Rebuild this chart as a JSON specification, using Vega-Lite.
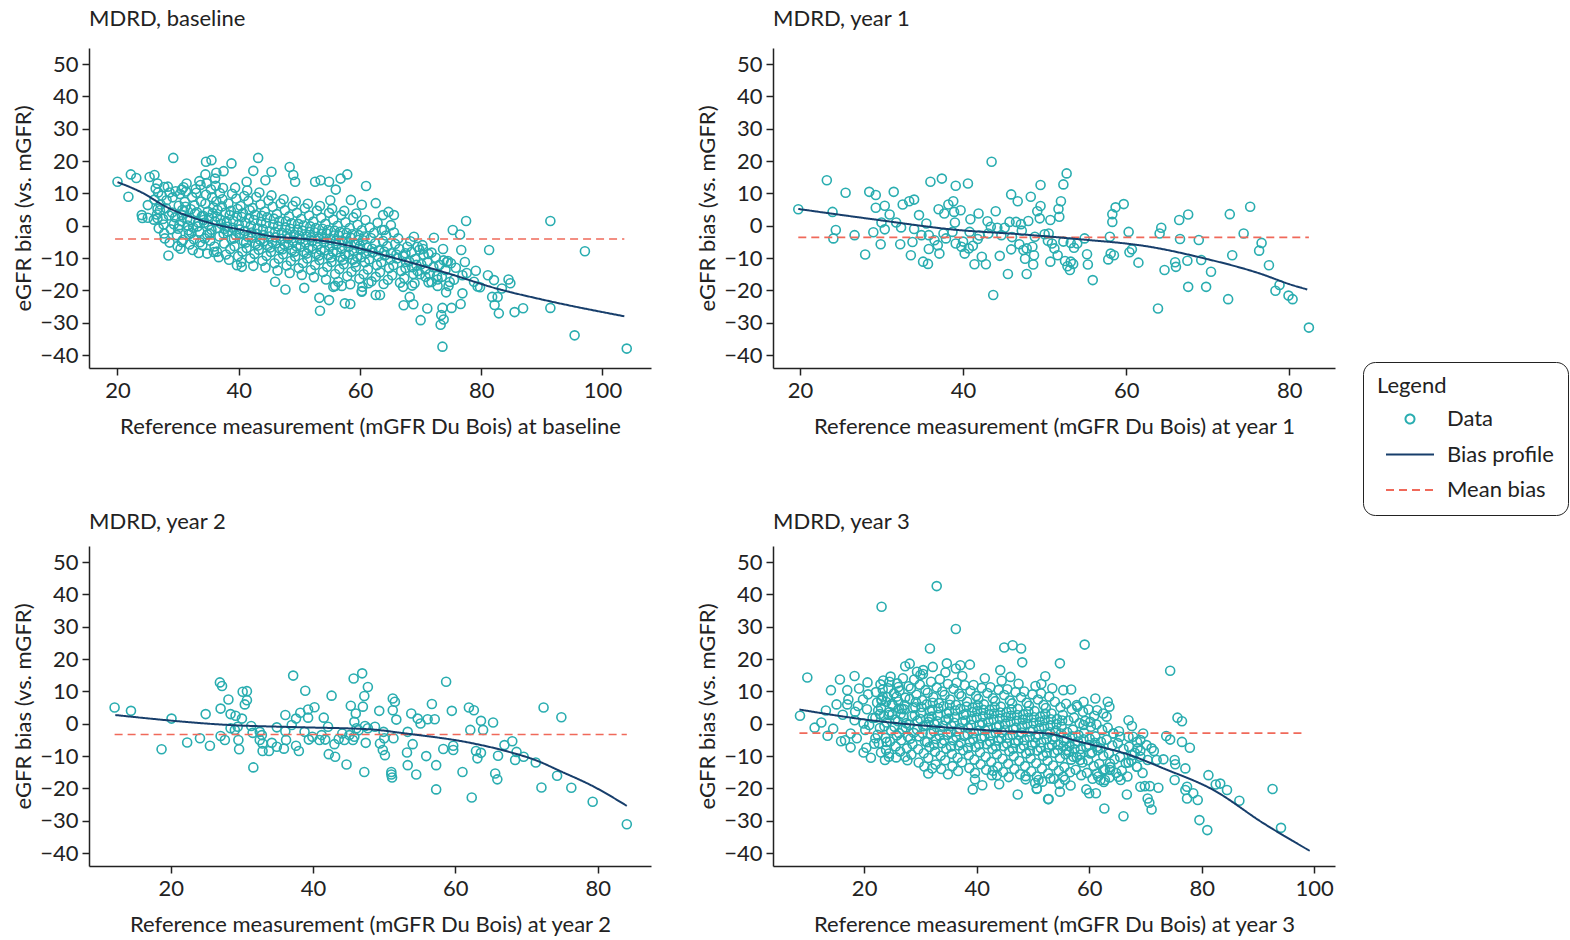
{
"$schema":"https://vega.github.io/schema/vega-lite/v6.json",
"background":"white",
"padding":{"left":12,"top":8,"right":5,"bottom":5},
"config":{
"font":"Lato",
"view":{"stroke":null},
"axis":{"grid":false,"domainColor":"#222","tickColor":"#222","labelColor":"#222","titleColor":"#222","labelFontSize":22,"titleFontSize":22,"titleFontWeight":"normal","tickSize":7,"labelPadding":4,"domainWidth":1.5,"tickWidth":1.5,"labelFont":"Lato","titleFont":"Lato","labelOverlap":false,"labelFlush":false},
"axisY":{"titlePadding":4},
"axisX":{"titlePadding":15,"labelPadding":5},
"title":{"fontSize":22,"fontWeight":"normal","anchor":"start","frame":"group","color":"#222","font":"Lato","offset":17},
"legend":{"orient":"none","legendX":1274,"legendY":314,"titleFontSize":22,"titleFontWeight":"normal","titleFont":"Lato","titleColor":"#222","titlePadding":10,"labelFontSize":22,"labelFont":"Lato","labelColor":"#222","labelOffset":26,"symbolSize":400,"symbolOffset":22,"rowPadding":13.5,"strokeColor":"#222","cornerRadius":12,"padding":14,"fillColor":"white","symbolStrokeWidth":2,"symbolFillColor":"transparent"}
},
"datasets":{
"p0":[
{"x":20,"y":13.6},{"x":21.8,"y":9},{"x":22.2,"y":15.9},{"x":23.1,"y":14.8},{"x":24,"y":3.3},{"x":24.1,"y":2.4},{"x":25,"y":2.5},{"x":25,"y":6.4},{"x":25.3,"y":15.1},{"x":26.1,"y":15.7},{"x":26.6,"y":13.1},{"x":26.7,"y":10.3},{"x":27.7,"y":12},{"x":26.6,"y":2.3},{"x":27.7,"y":-2.4},{"x":28.4,"y":-9.2},{"x":29.2,"y":21},{"x":28.6,"y":10.3},{"x":30.6,"y":11.2},{"x":30.6,"y":-5},{"x":34.6,"y":19.8},{"x":35.5,"y":20.3},{"x":38.8,"y":19.3},{"x":43.2,"y":21},{"x":48.4,"y":18.2},{"x":42.4,"y":17},{"x":45.4,"y":16.7},{"x":34.5,"y":15.9},{"x":36.3,"y":16.4},{"x":37.5,"y":16.9},{"x":36.1,"y":14.6},{"x":33.5,"y":13.8},{"x":41.3,"y":13.6},{"x":44.4,"y":14.1},{"x":49,"y":15.7},{"x":49.3,"y":13.6},{"x":52.6,"y":13.6},{"x":53.5,"y":14.1},{"x":54.9,"y":13.6},{"x":56.8,"y":14.6},{"x":57.9,"y":15.9},{"x":56,"y":11.2},{"x":61,"y":12.3},{"x":34.8,"y":-8.6},{"x":39.7,"y":-12.2},{"x":40.5,"y":-12.7},{"x":46,"y":-17.3},{"x":47.7,"y":-19.7},{"x":50.8,"y":-19.2},{"x":53.3,"y":-22.3},{"x":54.9,"y":-23},{"x":53.4,"y":-26.3},{"x":58.4,"y":-24.2},{"x":55.9,"y":-18.6},{"x":57,"y":-18.6},{"x":60.3,"y":-20.2},{"x":61.4,"y":-17.8},{"x":62.6,"y":-21.4},{"x":63.3,"y":-21.4},{"x":36.4,"y":-8},
{"x":91.4,"y":1.5},{"x":97.1,"y":-7.9},{"x":95.4,"y":-33.9},{"x":104,"y":-38},{"x":91.4,"y":-25.4},{"x":73.6,"y":-37.4},{"x":77.5,"y":1.5},{"x":75.3,"y":-1.3},{"x":76.5,"y":-2.7},{"x":73.7,"y":-7.2},{"x":76.7,"y":-7.5},{"x":81.3,"y":-7.5},{"x":81.1,"y":-15.3},{"x":82.1,"y":-16.8},{"x":84.5,"y":-16.6},{"x":84.8,"y":-17.8},{"x":83.4,"y":-19.4},{"x":79.8,"y":-19},{"x":78.8,"y":-17.3},{"x":76.9,"y":-15.3},{"x":76.9,"y":-20.9},{"x":81.8,"y":-22},{"x":82.7,"y":-22},{"x":82.2,"y":-24.5},{"x":82.9,"y":-27.1},{"x":85.5,"y":-26.7},{"x":86.9,"y":-25.5},{"x":76.6,"y":-24.2},{"x":75.1,"y":-25.4},{"x":73.6,"y":-25.4},{"x":73.4,"y":-27.6},{"x":73.8,"y":-29},{"x":73.3,"y":-30.6},{"x":71.1,"y":-25.6},{"x":70,"y":-29.2},{"x":68.8,"y":-24.3},{"x":67.2,"y":-24.6},{"x":68.2,"y":-22},{"x":74.2,"y":-20.6},{"x":74.6,"y":-18.6},{"x":72.8,"y":-18.6},{"x":72.7,"y":-15.5},{"x":74.3,"y":-11.3},{"x":75,"y":-11.6},{"x":72.2,"y":-3.7},{"x":68.9,"y":-3.4},{"x":69.5,"y":-6.5},{"x":71.3,"y":-8.7},{"x":70.4,"y":-7.2},{"x":63.8,"y":3.3},{"x":65.1,"y":0.2},{"x":65.6,"y":3.3},{"x":64.7,"y":4.3},{"x":64,"y":-1.3},{"x":55.1,"y":7.9},{"x":62.6,"y":7},{"x":60.3,"y":6.5},{"x":58.5,"y":8},{"x":57.5,"y":-24},{"x":60.3,"y":-20.4},{"x":67.1,"y":-18.9},{"x":55.6,"y":-18.9},{"x":67.5,"y":-8.5},{"x":68.6,"y":-12.8},{"x":69.9,"y":-15},{"x":70.8,"y":-13.5},{"x":71.8,"y":-17.4},{"x":69,"y":-17.8},
{"x":26.1,"y":8.1},{"x":26.5,"y":3.5},{"x":26.8,"y":-0.8},{"x":26.3,"y":11.5},{"x":26.6,"y":5.2},{"x":26,"y":1.9},
{"x":27.1,"y":6.6},{"x":27.5,"y":2.1},{"x":27.8,"y":-3.9},{"x":27.3,"y":9.3},{"x":27.6,"y":0.4},{"x":27,"y":4.8},
{"x":28.1,"y":7.9},{"x":28.5,"y":3.2},{"x":28.8,"y":-1.1},{"x":28.3,"y":12.1},{"x":28.6,"y":-5.2},{"x":28,"y":5.4},
{"x":29.1,"y":8.8},{"x":29.5,"y":2.6},{"x":29.8,"y":-2.9},{"x":29.3,"y":0.5},{"x":29.6,"y":10.7},{"x":29,"y":4.1},{"x":29.9,"y":-6.3},
{"x":30.1,"y":6.2},{"x":30.5,"y":1.4},{"x":30.8,"y":-4.4},{"x":30.3,"y":9.8},{"x":30.6,"y":3.3},{"x":30,"y":-0.9},{"x":30.9,"y":11.9},{"x":30.4,"y":-7.1},{"x":30.7,"y":4.9},{"x":30.2,"y":0.2},
{"x":31.1,"y":7.4},{"x":31.5,"y":2.2},{"x":31.8,"y":-2.6},{"x":31.3,"y":10.6},{"x":31.6,"y":0.1},{"x":31,"y":4.5},{"x":31.9,"y":-5.8},{"x":31.4,"y":13.1},{"x":31.7,"y":-1.4},{"x":31.2,"y":5.9},
{"x":32.1,"y":5.1},{"x":32.5,"y":-0.6},{"x":32.8,"y":3.8},{"x":32.3,"y":8.9},{"x":32.6,"y":-4.2},{"x":32,"y":1.7},{"x":32.9,"y":11.4},{"x":32.4,"y":-7.5},{"x":32.7,"y":6.3},{"x":32.2,"y":-2.2},
{"x":33.1,"y":4.2},{"x":33.5,"y":-1.8},{"x":33.8,"y":7.5},{"x":33.3,"y":1},{"x":33.6,"y":-5.1},{"x":33,"y":10.2},{"x":33.9,"y":2.9},{"x":33.4,"y":-8.4},{"x":33.7,"y":12.6},{"x":33.2,"y":-0.2},
{"x":34.1,"y":3.1},{"x":34.5,"y":6.8},{"x":34.8,"y":-2.7},{"x":34.3,"y":0.9},{"x":34.6,"y":9.6},{"x":34,"y":-6},{"x":34.9,"y":4.4},{"x":34.4,"y":-3.9},{"x":34.7,"y":13.2},{"x":34.2,"y":1.8},
{"x":35.1,"y":2.4},{"x":35.5,"y":-1.2},{"x":35.8,"y":5.7},{"x":35.3,"y":-4.6},{"x":35.6,"y":8.8},{"x":35,"y":0.3},{"x":35.9,"y":-8.1},{"x":35.4,"y":11.3},{"x":35.7,"y":3.9},{"x":35.2,"y":-2.5},
{"x":36.1,"y":1.3},{"x":36.5,"y":4.9},{"x":36.8,"y":-3.3},{"x":36.3,"y":7.6},{"x":36.6,"y":-0.7},{"x":36,"y":-6.4},{"x":36.9,"y":10.1},{"x":36.4,"y":2.8},{"x":36.7,"y":-9.7},{"x":36.2,"y":12.4},
{"x":37.1,"y":0.6},{"x":37.5,"y":-2.4},{"x":37.8,"y":4.1},{"x":37.3,"y":8.2},{"x":37.6,"y":-5.5},{"x":37,"y":1.9},{"x":37.9,"y":-8.9},{"x":37.4,"y":11.7},{"x":37.7,"y":-0.9},{"x":37.2,"y":6},
{"x":38.1,"y":-0.3},{"x":38.5,"y":3.3},{"x":38.8,"y":-4.1},{"x":38.3,"y":6.9},{"x":38.6,"y":-7.2},{"x":38,"y":1.2},{"x":38.9,"y":9.9},{"x":38.4,"y":-10.5},{"x":38.7,"y":4.6},{"x":38.2,"y":-1.8},
{"x":39.1,"y":1.5},{"x":39.5,"y":-2.9},{"x":39.8,"y":5.2},{"x":39.3,"y":-6.3},{"x":39.6,"y":8.4},{"x":39,"y":-0.6},{"x":39.9,"y":-9.4},{"x":39.4,"y":11.8},{"x":39.7,"y":3},{"x":39.2,"y":-3.9},
{"x":40.1,"y":-1.1},{"x":40.5,"y":2.7},{"x":40.8,"y":-4.8},{"x":40.3,"y":6.1},{"x":40.6,"y":-8},{"x":40,"y":0.4},{"x":40.9,"y":9.2},{"x":40.4,"y":-11.3},{"x":40.7,"y":3.9},{"x":40.2,"y":-2.6},
{"x":41.1,"y":0.9},{"x":41.5,"y":-3.4},{"x":41.8,"y":4.8},{"x":41.3,"y":-6.9},{"x":41.6,"y":7.7},{"x":41,"y":-1.6},{"x":41.9,"y":-10.1},{"x":41.4,"y":10.9},{"x":41.7,"y":2.3},{"x":41.2,"y":-5.2},
{"x":42.1,"y":-2.1},{"x":42.5,"y":1.8},{"x":42.8,"y":-5.6},{"x":42.3,"y":5.5},{"x":42.6,"y":-8.7},{"x":42,"y":0},{"x":42.9,"y":8.9},{"x":42.4,"y":-12.4},{"x":42.7,"y":3.4},{"x":42.2,"y":-3.7},
{"x":43.1,"y":-0.8},{"x":43.5,"y":-4.3},{"x":43.8,"y":3.1},{"x":43.3,"y":-7.4},{"x":43.6,"y":6.6},{"x":43,"y":-2.5},{"x":43.9,"y":-10.8},{"x":43.4,"y":10.3},{"x":43.7,"y":1.2},{"x":43.2,"y":-6.1},
{"x":44.1,"y":-2.9},{"x":44.5,"y":0.8},{"x":44.8,"y":-6.2},{"x":44.3,"y":4.4},{"x":44.6,"y":-9.3},{"x":44,"y":-1.1},{"x":44.9,"y":7.8},{"x":44.4,"y":-12.9},{"x":44.7,"y":2.6},{"x":44.2,"y":-4.8},
{"x":45.1,"y":-1.7},{"x":45.5,"y":-5},{"x":45.8,"y":2.2},{"x":45.3,"y":-8.1},{"x":45.6,"y":5.9},{"x":45,"y":-3.3},{"x":45.9,"y":-11.6},{"x":45.4,"y":9.4},{"x":45.7,"y":0.4},{"x":45.2,"y":-6.7},
{"x":46.1,"y":-3.6},{"x":46.5,"y":-0.2},{"x":46.8,"y":-7},{"x":46.3,"y":3.6},{"x":46.6,"y":-10.2},{"x":46,"y":-1.9},{"x":46.9,"y":6.9},{"x":46.4,"y":-13.8},{"x":46.7,"y":1.5},{"x":46.2,"y":-5.4},
{"x":47.1,"y":-2.2},{"x":47.5,"y":-5.8},{"x":47.8,"y":1.4},{"x":47.3,"y":-8.8},{"x":47.6,"y":4.8},{"x":47,"y":-4},{"x":47.9,"y":-12.3},{"x":47.4,"y":8.2},{"x":47.7,"y":-0.5},{"x":47.2,"y":-7.3},
{"x":48.1,"y":-3.9},{"x":48.5,"y":-0.9},{"x":48.8,"y":-7.6},{"x":48.3,"y":2.9},{"x":48.6,"y":-10.9},{"x":48,"y":-2.4},{"x":48.9,"y":6.2},{"x":48.4,"y":-14.6},{"x":48.7,"y":0.8},{"x":48.2,"y":-5.9},
{"x":49.1,"y":-2.8},{"x":49.5,"y":-6.3},{"x":49.8,"y":0.6},{"x":49.3,"y":-9.5},{"x":49.6,"y":4},{"x":49,"y":-4.6},{"x":49.9,"y":-13.1},{"x":49.4,"y":7.5},{"x":49.7,"y":-1.2},{"x":49.2,"y":-8},
{"x":50.1,"y":-4.3},{"x":50.5,"y":-1.5},{"x":50.8,"y":-8.2},{"x":50.3,"y":2.1},{"x":50.6,"y":-11.5},{"x":50,"y":-3},{"x":50.9,"y":5.4},{"x":50.4,"y":-15.2},{"x":50.7,"y":0.1},{"x":50.2,"y":-6.5},
{"x":51.1,"y":-3.3},{"x":51.5,"y":-6.9},{"x":51.8,"y":-0.2},{"x":51.3,"y":-10.1},{"x":51.6,"y":3.2},{"x":51,"y":-5.2},{"x":51.9,"y":-13.7},{"x":51.4,"y":6.8},{"x":51.7,"y":-1.9},{"x":51.2,"y":-8.6},
{"x":52.1,"y":-4.8},{"x":52.5,"y":-2},{"x":52.8,"y":-8.7},{"x":52.3,"y":1.3},{"x":52.6,"y":-12.1},{"x":52,"y":-3.6},{"x":52.9,"y":4.7},{"x":52.4,"y":-15.9},{"x":52.7,"y":-0.7},{"x":52.2,"y":-7.1},
{"x":53.1,"y":-3.9},{"x":53.5,"y":-7.4},{"x":53.8,"y":-0.9},{"x":53.3,"y":-10.6},{"x":53.6,"y":2.5},{"x":53,"y":-5.7},{"x":53.9,"y":-14.3},{"x":53.4,"y":6.1},{"x":53.7,"y":-2.5},{"x":53.2,"y":-9.2},
{"x":54.1,"y":-5.2},{"x":54.5,"y":-2.4},{"x":54.8,"y":-9.1},{"x":54.3,"y":0.6},{"x":54.6,"y":-12.7},{"x":54,"y":-4.1},{"x":54.9,"y":4},{"x":54.4,"y":-16.6},{"x":54.7,"y":-1.3},{"x":54.2,"y":-7.6},
{"x":55.1,"y":-4.4},{"x":55.5,"y":-8},{"x":55.8,"y":-1.5},{"x":55.3,"y":-11.2},{"x":55.6,"y":1.9},{"x":55,"y":-6.2},{"x":55.9,"y":-14.9},{"x":55.4,"y":5.3},{"x":55.7,"y":-3},{"x":55.2,"y":-9.8},
{"x":56.1,"y":-5.9},{"x":56.5,"y":-3},{"x":56.8,"y":-9.8},{"x":56.3,"y":0},{"x":56.6,"y":-13.4},{"x":56,"y":-4.7},{"x":56.9,"y":3.3},{"x":56.4,"y":-17.3},{"x":56.7,"y":-1.9},{"x":56.2,"y":-8.2},
{"x":57.1,"y":-5},{"x":57.5,"y":-8.8},{"x":57.8,"y":-2.2},{"x":57.3,"y":-11.9},{"x":57.6,"y":1.1},{"x":57,"y":-6.9},{"x":57.9,"y":-15.6},{"x":57.4,"y":4.6},{"x":57.7,"y":-3.7},{"x":57.2,"y":-10.5},
{"x":58.1,"y":-6.6},{"x":58.5,"y":-3.7},{"x":58.8,"y":-10.5},{"x":58.3,"y":-0.7},{"x":58.6,"y":-14.2},{"x":58,"y":-5.4},{"x":58.9,"y":2.6},{"x":58.4,"y":-18.1},{"x":58.7,"y":-2.6},{"x":58.2,"y":-8.9},
{"x":59.1,"y":-5.8},{"x":59.5,"y":-9.6},{"x":59.8,"y":-2.9},{"x":59.3,"y":-12.7},{"x":59.6,"y":0.3},{"x":59,"y":-7.7},{"x":59.9,"y":-16.4},{"x":59.4,"y":3.8},{"x":59.7,"y":-4.4},{"x":59.2,"y":-11.3},
{"x":60.1,"y":-7.4},{"x":60.5,"y":-4.5},{"x":60.8,"y":-11.3},{"x":60.3,"y":-1.4},{"x":60.6,"y":-15},{"x":60,"y":-6.2},{"x":60.9,"y":1.8},{"x":60.4,"y":-18.9},{"x":60.7,"y":-3.3},{"x":60.2,"y":-9.7},
{"x":61.1,"y":-6.7},{"x":61.5,"y":-10.4},{"x":61.8,"y":-3.8},{"x":61.3,"y":-13.5},{"x":61.6,"y":-0.5},{"x":61,"y":-8.5},{"x":61.9,"y":-17.2},
{"x":62.1,"y":-8.3},{"x":62.5,"y":-5.4},{"x":62.8,"y":-12.2},{"x":62.3,"y":-2.2},{"x":62.6,"y":-15.8},{"x":62,"y":-7.1},{"x":62.9,"y":0.9},
{"x":63.1,"y":-7.6},{"x":63.5,"y":-11.3},{"x":63.8,"y":-4.7},{"x":63.3,"y":-14.4},{"x":63.6,"y":-1.3},{"x":63,"y":-9.4},{"x":63.9,"y":-18},
{"x":64.1,"y":-9.2},{"x":64.5,"y":-6.3},{"x":64.8,"y":-13.1},{"x":64.3,"y":-3},{"x":64.6,"y":-16.7},{"x":64,"y":-8},
{"x":65.1,"y":-8.5},{"x":65.5,"y":-12.2},{"x":65.8,"y":-5.6},{"x":65.3,"y":-15.3},{"x":65.6,"y":-2.1},{"x":65,"y":-10.3},
{"x":66.1,"y":-10.1},{"x":66.5,"y":-7.2},{"x":66.8,"y":-14},{"x":66.3,"y":-3.9},{"x":66.6,"y":-17.6},{"x":66,"y":-8.9},
{"x":67.1,"y":-9.4},{"x":67.5,"y":-13.1},{"x":67.8,"y":-6.5},{"x":67.3,"y":-16.2},{"x":67.6,"y":-11.2},
{"x":68.1,"y":-11},{"x":68.5,"y":-8.1},{"x":68.8,"y":-14.9},{"x":68.3,"y":-4.8},{"x":68.6,"y":-18.5},
{"x":69.1,"y":-10.3},{"x":69.5,"y":-14},{"x":69.8,"y":-7.4},{"x":69.3,"y":-12.1},
{"x":70.1,"y":-11.9},{"x":70.5,"y":-9},{"x":70.8,"y":-15.8},{"x":70.3,"y":-6},
{"x":71.1,"y":-11.2},{"x":71.5,"y":-14.9},{"x":71.8,"y":-8.3},{"x":71.3,"y":-17.5},
{"x":72.1,"y":-12.8},{"x":72.5,"y":-9.9},{"x":72.8,"y":-16.6},
{"x":73.1,"y":-12.1},{"x":73.5,"y":-15.8},{"x":73.8,"y":-10.7},
{"x":74.1,"y":-13.7},{"x":74.5,"y":-10.9},{"x":74.8,"y":-17.4},
{"x":75.8,"y":-13},{"x":75.5,"y":-16.7},{"x":77.6,"y":-14.6},{"x":77.3,"y":-11.2},{"x":79.1,"y":-13.9},{"x":79.4,"y":-18.8}
],
"p1":[
{"x":19.8,"y":5.1},{"x":23.3,"y":14.1},{"x":24,"y":4.3},{"x":24.4,"y":-1.3},{"x":24.1,"y":-3.9},{"x":25.6,"y":10.2},{"x":26.7,"y":-2.9},{"x":28,"y":-8.9},{"x":28.5,"y":10.5},{"x":29.3,"y":9.5},{"x":29.3,"y":5.6},{"x":30.4,"y":6.2},{"x":30,"y":1},{"x":29,"y":-2},{"x":30.4,"y":-1.1},{"x":29.9,"y":-5.7},{"x":31.5,"y":10.5},{"x":31.8,"y":1},{"x":32.4,"y":-0.5},{"x":32.3,"y":-5.7},{"x":32.6,"y":6.6},{"x":33.4,"y":7.6},{"x":34,"y":8.1},{"x":34.6,"y":3.3},{"x":35.5,"y":0.7},{"x":34.9,"y":-2.9},{"x":35.8,"y":-2.9},{"x":33.8,"y":-5},{"x":33.6,"y":-9.1},{"x":35.1,"y":-11.1},{"x":35.7,"y":-11.8},{"x":35.8,"y":-7.2},{"x":36,"y":13.6},{"x":37.4,"y":14.6},{"x":37,"y":5.1},{"x":37.7,"y":3.8},{"x":38.2,"y":6.6},{"x":38.8,"y":7.6},{"x":38.9,"y":4.3},{"x":39.7,"y":4.8},{"x":39.1,"y":12.4},{"x":40.6,"y":13.1},{"x":37.6,"y":-2.4},{"x":38.7,"y":-1.9},{"x":37.9,"y":-3.9},{"x":36.9,"y":-6},{"x":37.1,"y":-8.6},{"x":39.1,"y":-5.5},{"x":40,"y":-4.9},{"x":39.8,"y":-6.5},{"x":40.7,"y":-7},{"x":40.2,"y":-8.6},{"x":40.9,"y":2},{"x":40.8,"y":-1.9},{"x":41.9,"y":3.8},{"x":41.8,"y":-4.1},{"x":41.4,"y":-11.9},{"x":42.8,"y":-11.9},{"x":42.3,"y":-9.6},{"x":43,"y":1.4},{"x":43.4,"y":-0.3},{"x":43.1,"y":-2.4},{"x":43.5,"y":19.8},{"x":43.7,"y":-21.4},{"x":44.2,"y":-0.6},{"x":44.7,"y":-2.9},{"x":44.5,"y":-9.3},{"x":45.1,"y":-0.6},{"x":45.7,"y":1.2},{"x":45.9,"y":9.7},{"x":46.7,"y":7.6},{"x":46.5,"y":1.2},{"x":47.1,"y":0.5},{"x":47.2,"y":-1.5},{"x":45.5,"y":-14.9},{"x":45.9,"y":-7.3},{"x":46.9,"y":-5.7},{"x":47.4,"y":-7.5},{"x":47.8,"y":-7},{"x":48.5,"y":-6.5},{"x":48.7,"y":-9.1},{"x":48.6,"y":-12},{"x":47.8,"y":-14.9},{"x":48.3,"y":9},{"x":49.1,"y":4.5},{"x":49.4,"y":2.3},{"x":49.5,"y":6.1},{"x":49.5,"y":12.6},{"x":48.8,"y":-3.4},{"x":50,"y":-2.6},{"x":50.5,"y":-2.4},{"x":50.7,"y":1.8},{"x":50.7,"y":-11.1},{"x":50.9,"y":-5.5},{"x":51.2,"y":-7},{"x":51.6,"y":-9.1},{"x":51.8,"y":2.8},{"x":51.7,"y":5.2},{"x":52,"y":7.6},{"x":52.3,"y":12.8},{"x":52.7,"y":16.2},{"x":52.3,"y":-4.9},{"x":53.2,"y":-5.3},{"x":54,"y":-5.5},{"x":52.5,"y":-10.9},{"x":52.8,"y":-12.5},{"x":53.5,"y":-11.8},{"x":53.1,"y":-13.7},{"x":53.2,"y":-11.1},{"x":54.9,"y":-3.9},{"x":55.2,"y":-8.8},{"x":55.3,"y":-12},{"x":55.9,"y":-16.8},{"x":58,"y":-3.4},{"x":58.3,"y":1.2},{"x":58.3,"y":3.6},{"x":58.7,"y":5.7},{"x":59.7,"y":6.7},{"x":57.8,"y":-10.4},{"x":58.1,"y":-8.6},{"x":58.5,"y":-9.1},{"x":60.3,"y":-1.9},{"x":60.4,"y":-8.2},{"x":60.7,"y":-7.3},{"x":61.5,"y":-11.4},{"x":63.9,"y":-25.6},{"x":64.1,"y":-2.4},{"x":64.3,"y":-0.6},{"x":64.7,"y":-13.7},{"x":66,"y":-11.3},{"x":66.1,"y":-12.7},{"x":66.5,"y":1.8},{"x":67.6,"y":3.5},{"x":66.6,"y":-4.1},{"x":67.5,"y":-10.8},{"x":67.6,"y":-18.9},{"x":68.9,"y":-4.4},{"x":69.2,"y":-10.6},{"x":69.8,"y":-18.9},{"x":70.4,"y":-14.2},{"x":72.5,"y":-22.7},{"x":72.7,"y":3.6},{"x":73,"y":-9.1},{"x":74.4,"y":-2.4},{"x":75.2,"y":5.9},{"x":76.3,"y":-7.7},{"x":76.6,"y":-5.3},{"x":77.5,"y":-12.2},{"x":78.3,"y":-20.1},{"x":78.8,"y":-18.3},{"x":79.9,"y":-21.6},{"x":80.4,"y":-22.7},{"x":82.4,"y":-31.5},
{"x":31,"y":3.5},{"x":36.5,"y":-4.5},{"x":42,"y":-3},{"x":44,"y":4.5},{"x":46,"y":-3.5},{"x":50.4,"y":-4.6},{"x":53.6,"y":-6.8},{"x":48,"y":1.5},{"x":39,"y":1},{"x":34,"y":-1},{"x":41.2,"y":-6.2},{"x":47.6,"y":-10.2}
],
"p2":[
{"x":12.1,"y":5.05},{"x":14.4,"y":4},{"x":18.7,"y":-7.9},{"x":20.1,"y":1.6},{"x":22.3,"y":-5.8},{"x":24.1,"y":-4.5},{"x":24.9,"y":3},{"x":25.5,"y":-6.8},{"x":26.9,"y":12.8},{"x":27.2,"y":11.7},{"x":27,"y":4.7},{"x":28.1,"y":7.5},{"x":27,"y":-3.8},{"x":27.6,"y":-5},{"x":28.4,"y":3},{"x":29.1,"y":2.5},{"x":30,"y":1.6},{"x":30.1,"y":9.9},{"x":30.7,"y":10.1},{"x":30.7,"y":7.3},{"x":30.4,"y":6},{"x":28.4,"y":-1.4},{"x":29,"y":-1.9},{"x":29.4,"y":-0.9},{"x":29.5,"y":-5},{"x":29.6,"y":-7.9},{"x":31.3,"y":-0.7},{"x":31.6,"y":-13.5},{"x":31.5,"y":-2.8},{"x":32.5,"y":-2.5},{"x":32.8,"y":-3.5},{"x":32.5,"y":-5},{"x":32.9,"y":-6.1},{"x":32.9,"y":-8.4},{"x":33.8,"y":-8.4},{"x":34.2,"y":-5.9},{"x":34.9,"y":-7.1},{"x":35.9,"y":-7.7},{"x":36.2,"y":-5},{"x":36.1,"y":-2.3},{"x":34.9,"y":-1.1},{"x":36.1,"y":2.7},{"x":37,"y":-0.4},{"x":37.2,"y":14.9},{"x":37.6,"y":1.6},{"x":38.2,"y":3.4},{"x":39.3,"y":4.4},{"x":39.3,"y":1.9},{"x":40.2,"y":5.1},{"x":38.9,"y":10.2},{"x":37.6,"y":-6.8},{"x":38,"y":-8.4},{"x":38.8,"y":-2.5},{"x":39.4,"y":-4.9},{"x":39.9,"y":-4},{"x":40.9,"y":-5},{"x":41.2,"y":-3.5},{"x":41.7,"y":-4.9},{"x":41.5,"y":1.9},{"x":42.1,"y":-0.9},{"x":42.6,"y":8.7},{"x":42.2,"y":-9.4},{"x":43.1,"y":-10.2},{"x":44.7,"y":-12.6},{"x":43,"y":-6.3},{"x":43.6,"y":-4.7},{"x":44.4,"y":-5},{"x":44.1,"y":-3},{"x":45.1,"y":-3.5},{"x":45.3,"y":5.6},{"x":45.7,"y":14},{"x":46,"y":3.2},{"x":46.9,"y":15.6},{"x":47.7,"y":11.4},{"x":47.2,"y":8.6},{"x":47,"y":5.3},{"x":45.8,"y":0.6},{"x":46.1,"y":-1.4},{"x":45.6,"y":-5},{"x":45.8,"y":-4},{"x":46.4,"y":-2},{"x":47.3,"y":-0.7},{"x":47.7,"y":-1.4},{"x":48.7,"y":-0.9},{"x":47.4,"y":-5.9},{"x":47.2,"y":-14.9},{"x":49.3,"y":4},{"x":49.4,"y":-6.1},{"x":49.8,"y":-8.1},{"x":50.1,"y":-9.7},{"x":49.9,"y":-2.5},{"x":50,"y":-4.5},{"x":51.3,"y":-4.5},{"x":51.2,"y":7.8},{"x":51.5,"y":6.8},{"x":51.2,"y":4.2},{"x":51.7,"y":1.3},{"x":51,"y":-14.9},{"x":51,"y":-15.7},{"x":51.1,"y":-16.6},{"x":53.2,"y":-8.9},{"x":53.3,"y":-12.8},{"x":54,"y":-6.3},{"x":53.3,"y":-2.5},{"x":53.8,"y":3.2},{"x":54.5,"y":-15.7},{"x":54.7,"y":1.6},{"x":55.1,"y":0.1},{"x":56.1,"y":1.4},{"x":57.1,"y":1.4},{"x":56.7,"y":6.1},{"x":55.9,"y":-10},{"x":57.3,"y":-12.8},{"x":57.3,"y":-20.3},{"x":58.3,"y":-7.8},{"x":59.7,"y":-6.8},{"x":59.7,"y":-8.1},{"x":58.7,"y":13},{"x":59.5,"y":4},{"x":61,"y":-14.9},{"x":61.9,"y":5.05},{"x":62.6,"y":4.2},{"x":62.1,"y":-1.9},{"x":63.6,"y":0.9},{"x":63.9,"y":-1.9},{"x":65.3,"y":0.4},{"x":62.3,"y":-22.8},{"x":62.9,"y":-8.4},{"x":63.1,"y":-10.7},{"x":63.6,"y":-9},{"x":65.6,"y":-15.4},{"x":65.9,"y":-17.2},{"x":66,"y":-9.9},{"x":66.9,"y":-6.6},{"x":68,"y":-5.4},{"x":68.6,"y":-8.7},{"x":68.4,"y":-11.2},{"x":69.6,"y":-10.2},{"x":71.3,"y":-12},{"x":72.1,"y":-19.7},{"x":72.4,"y":5.05},{"x":74.3,"y":-16.1},{"x":74.9,"y":2},{"x":76.3,"y":-19.8},{"x":79.3,"y":-24.1},{"x":84.1,"y":-31.1}
],
"p3":[
{"x":8.6,"y":2.5},{"x":9.9,"y":14.3},{"x":12.4,"y":0.4},{"x":13.5,"y":-3.7},{"x":14.1,"y":10.4},{"x":15.7,"y":13.7},{"x":17,"y":10.4},{"x":17.2,"y":7.5},{"x":17,"y":6},{"x":15.1,"y":6},{"x":18.3,"y":14.8},{"x":19.1,"y":10.9},{"x":20.6,"y":12.8},{"x":20.7,"y":9.1},{"x":19.8,"y":7.5},{"x":18.9,"y":5.5},{"x":18.4,"y":3.7},{"x":15.9,"y":-5.4},{"x":16.6,"y":-5.1},{"x":17.6,"y":-3},{"x":17.6,"y":-7.3},{"x":18.3,"y":1.1},{"x":19.9,"y":0.1},{"x":20.9,"y":-0.4},{"x":20.2,"y":-1.9},{"x":19.9,"y":-8.9},{"x":20.4,"y":-7.4},{"x":22,"y":-4.5},{"x":23,"y":-8.9},{"x":23.7,"y":-11.2},{"x":24.4,"y":-10.2},{"x":24,"y":-5.6},{"x":23.1,"y":36.2},{"x":23.3,"y":8.4},{"x":23.9,"y":6.8},{"x":23.1,"y":7.5},{"x":24.4,"y":2.7},{"x":24.5,"y":13},{"x":25.8,"y":8.4},{"x":26.1,"y":11.4},{"x":26.2,"y":4.7},{"x":27.3,"y":-10.2},{"x":27.3,"y":17.8},{"x":28.1,"y":18.6},{"x":29.4,"y":16.1},{"x":30.5,"y":16.6},{"x":30,"y":15.1},{"x":31.7,"y":23.3},{"x":32.2,"y":17.6},{"x":32.9,"y":42.6},{"x":34.7,"y":18.7},{"x":36.3,"y":17.1},{"x":37.1,"y":18.1},{"x":38.8,"y":18.3},{"x":36.3,"y":29.3},{"x":31.4,"y":-15.4},{"x":32.1,"y":-13.8},{"x":34.9,"y":-15.6},{"x":39.3,"y":-20.3},{"x":41,"y":-19},{"x":39.7,"y":-17.2},{"x":42.9,"y":-14.5},{"x":44,"y":-18.7},{"x":43.6,"y":-15.9},{"x":44.9,"y":23.6},{"x":46.4,"y":24.3},{"x":47.9,"y":23.3},{"x":48.1,"y":19},{"x":44.2,"y":16.6},{"x":46,"y":14.5},{"x":47.3,"y":-21.9},{"x":48.7,"y":-16.2},{"x":50.7,"y":-20.2},{"x":50.4,"y":-18.3},{"x":52.7,"y":-23.3},{"x":54.8,"y":-21},{"x":52.2,"y":14.7},{"x":54.8,"y":18.7},{"x":55.4,"y":10.4},
{"x":59.2,"y":24.5},{"x":51.5,"y":12.3},{"x":56.8,"y":10.6},{"x":61.1,"y":7.8},{"x":63.3,"y":6.8},{"x":63.6,"y":5.3},{"x":59,"y":6.8},{"x":57.8,"y":5.8},{"x":67,"y":1.1},{"x":67.6,"y":-0.7},{"x":74.4,"y":16.4},{"x":75.7,"y":1.9},{"x":76.5,"y":0.8},{"x":73.7,"y":-3.8},{"x":74.4,"y":-4.9},{"x":76.5,"y":-5.6},{"x":77.9,"y":-7.4},{"x":73.2,"y":-11},{"x":75.2,"y":-11.2},{"x":75.3,"y":-12.5},{"x":77.1,"y":-13.8},{"x":75.2,"y":-17.4},{"x":77.4,"y":-19.5},{"x":77.1,"y":-20.5},{"x":78.5,"y":-21.5},{"x":79.3,"y":-23.6},{"x":77.4,"y":-23.1},{"x":81.2,"y":-15.9},{"x":82.5,"y":-18.8},{"x":83.3,"y":-18.5},{"x":84.5,"y":-20.5},{"x":86.7,"y":-23.8},{"x":92.6,"y":-20.2},{"x":79.6,"y":-29.8},{"x":81,"y":-32.9},{"x":94.1,"y":-32.2},{"x":69.6,"y":-3},{"x":71.1,"y":-7.6},{"x":71.5,"y":-8.4},{"x":72,"y":-11.2},{"x":70.4,"y":-11.2},{"x":69.1,"y":-10.2},{"x":68.6,"y":-7.6},{"x":69.1,"y":-5},{"x":70.2,"y":-6.6},{"x":69.1,"y":-19.5},{"x":69.9,"y":-19.3},{"x":70.8,"y":-19.3},{"x":72.3,"y":-19.8},{"x":70.4,"y":-23.1},{"x":70.7,"y":-24.4},{"x":71.1,"y":-26.5},{"x":66.1,"y":-28.6},{"x":62.7,"y":-26.2},{"x":66.7,"y":-21.9},{"x":52.8,"y":-23.3},{"x":60,"y":-21.5},{"x":61.2,"y":-21.5},{"x":59.5,"y":-20.3},{"x":62.8,"y":-17.4},{"x":62,"y":-17.4},{"x":65.2,"y":-16.4},{"x":65.6,"y":-17.4},{"x":68.5,"y":-13.3},{"x":67,"y":-12},{"x":67.6,"y":-9.7},{"x":63.7,"y":-12.3},{"x":63.7,"y":-14.3},{"x":62.5,"y":-14.3},{"x":61.4,"y":-15.4},{"x":55.4,"y":-16.4},{"x":53.1,"y":-16.9},{"x":51,"y":-17.4},{"x":50.7,"y":-20},{"x":67,"y":-4},{"x":68.5,"y":-5.6},{"x":65.5,"y":-4},{"x":64.3,"y":-3},{"x":61.4,"y":4.2},{"x":62.5,"y":3.2},{"x":63.1,"y":2.2},{"x":60.2,"y":0.6},{"x":59,"y":-0.4},{"x":61.4,"y":-7.1},{"x":60.2,"y":-9.2},{"x":58.4,"y":-11.2},{"x":57.2,"y":-10.2},{"x":56,"y":-8.1},
{"x":14.5,"y":-1.5},{"x":16.2,"y":2.8},{"x":18.7,"y":-4.5},{"x":21.2,"y":-10.5},{"x":21.8,"y":-6.2},{"x":20.5,"y":4.5},{"x":11.2,"y":-1.2},{"x":13.2,"y":4.1},{"x":21.5,"y":1.8},{"x":22.8,"y":3},
{"x":22.1,"y":9.8},{"x":22.5,"y":4.1},{"x":22.8,"y":-1.3},{"x":22.3,"y":6.6},{"x":22.6,"y":-6},{"x":22,"y":1.9},{"x":22.9,"y":12.2},{"x":22.4,"y":-3.4},
{"x":23.1,"y":7.2},{"x":23.5,"y":2.5},{"x":23.8,"y":-4.4},{"x":23.3,"y":10.6},{"x":23.6,"y":-0.8},{"x":23,"y":5},{"x":23.9,"y":-8.1},{"x":23.4,"y":13.4},
{"x":24.1,"y":8.3},{"x":24.5,"y":3.6},{"x":24.8,"y":-2.1},{"x":24.3,"y":11},{"x":24.6,"y":-5.5},{"x":24,"y":0.4},{"x":24.9,"y":6.1},{"x":24.4,"y":-9.2},{"x":24.7,"y":14.6},
{"x":25.1,"y":5.7},{"x":25.5,"y":1.3},{"x":25.8,"y":-3.6},{"x":25.3,"y":9.4},{"x":25.6,"y":-7},{"x":25,"y":2.8},{"x":25.9,"y":12.5},{"x":25.4,"y":-0.9},{"x":25.7,"y":-10.4},
{"x":26.1,"y":6.9},{"x":26.5,"y":3},{"x":26.8,"y":-1.7},{"x":26.3,"y":10.2},{"x":26.6,"y":-5.1},{"x":26,"y":0.8},{"x":26.9,"y":14.1},{"x":26.4,"y":-8.6},{"x":26.7,"y":4.6},{"x":26.2,"y":-2.9},
{"x":27.1,"y":4.5},{"x":27.5,"y":0.2},{"x":27.8,"y":-4},{"x":27.3,"y":8.1},{"x":27.6,"y":-7.6},{"x":27,"y":2.1},{"x":27.9,"y":11.6},{"x":27.4,"y":-1.1},{"x":27.7,"y":-11.3},{"x":27.2,"y":5.8},
{"x":28.1,"y":7.7},{"x":28.5,"y":2.4},{"x":28.8,"y":-2.8},{"x":28.3,"y":10.9},{"x":28.6,"y":-6.3},{"x":28,"y":-0.3},{"x":28.9,"y":13.7},{"x":28.4,"y":-9.5},{"x":28.7,"y":4.9},{"x":28.2,"y":-4.6},
{"x":29.1,"y":5.1},{"x":29.5,"y":0.9},{"x":29.8,"y":-3.9},{"x":29.3,"y":9},{"x":29.6,"y":-7.9},{"x":29,"y":2.6},{"x":29.9,"y":12.1},{"x":29.4,"y":-1.8},{"x":29.7,"y":-12},{"x":29.2,"y":6.7},
{"x":30.1,"y":3.4},{"x":30.5,"y":-0.8},{"x":30.8,"y":-5.4},{"x":30.3,"y":7.3},{"x":30.6,"y":-9.1},{"x":30,"y":1.5},{"x":30.9,"y":10.4},{"x":30.4,"y":-2.9},{"x":30.7,"y":-13.2},{"x":30.2,"y":5.2},{"x":30.45,"y":15.4},
{"x":31.1,"y":6},{"x":31.5,"y":1.7},{"x":31.8,"y":-3.1},{"x":31.3,"y":9.6},{"x":31.6,"y":-7.2},{"x":31,"y":-0.4},{"x":31.9,"y":13},{"x":31.4,"y":-10.6},{"x":31.7,"y":4},{"x":31.2,"y":-5.7},{"x":31.45,"y":0.6},
{"x":32.1,"y":4.3},{"x":32.5,"y":-0.1},{"x":32.8,"y":-4.7},{"x":32.3,"y":8.2},{"x":32.6,"y":-8.6},{"x":32,"y":2.2},{"x":32.9,"y":11.2},{"x":32.4,"y":-2.3},{"x":32.7,"y":-12.6},{"x":32.2,"y":6.5},{"x":32.45,"y":-6.5},
{"x":33.1,"y":2.7},{"x":33.5,"y":-1.9},{"x":33.8,"y":-6},{"x":33.3,"y":6.4},{"x":33.6,"y":-9.9},{"x":33,"y":0.8},{"x":33.9,"y":10},{"x":33.4,"y":-3.6},{"x":33.7,"y":-14},{"x":33.2,"y":4.8},{"x":33.45,"y":13.8},
{"x":34.1,"y":5.4},{"x":34.5,"y":1.1},{"x":34.8,"y":-3.4},{"x":34.3,"y":8.9},{"x":34.6,"y":-7.7},{"x":34,"y":-0.6},{"x":34.9,"y":12.3},{"x":34.4,"y":-11.3},{"x":34.7,"y":3.2},{"x":34.2,"y":-5.1},{"x":34.45,"y":15.9},
{"x":35.1,"y":3.8},{"x":35.5,"y":-0.6},{"x":35.8,"y":-5.1},{"x":35.3,"y":7.5},{"x":35.6,"y":-9.3},{"x":35,"y":1.6},{"x":35.9,"y":10.8},{"x":35.4,"y":-2.6},{"x":35.7,"y":-13.1},{"x":35.2,"y":5.9},{"x":35.45,"y":-7},
{"x":36.1,"y":2},{"x":36.5,"y":-2.3},{"x":36.8,"y":-6.7},{"x":36.3,"y":5.8},{"x":36.6,"y":-10.5},{"x":36,"y":0.3},{"x":36.9,"y":9.3},{"x":36.4,"y":-4.1},{"x":36.7,"y":-14.6},{"x":36.2,"y":4.1},{"x":36.45,"y":12.7},
{"x":37.1,"y":4.6},{"x":37.5,"y":0.5},{"x":37.8,"y":-3.8},{"x":37.3,"y":8.5},{"x":37.6,"y":-8.2},{"x":37,"y":-1.4},{"x":37.9,"y":11.9},{"x":37.4,"y":-11.9},{"x":37.7,"y":2.8},{"x":37.2,"y":-5.9},{"x":37.45,"y":14.8},
{"x":38.1,"y":3.1},{"x":38.5,"y":-1.2},{"x":38.8,"y":-5.6},{"x":38.3,"y":6.8},{"x":38.6,"y":-9.7},{"x":38,"y":1},{"x":38.9,"y":10.2},{"x":38.4,"y":-3.3},{"x":38.7,"y":-13.7},{"x":38.2,"y":5.3},{"x":38.45,"y":-7.5},
{"x":39.1,"y":1.4},{"x":39.5,"y":-2.9},{"x":39.8,"y":-7.2},{"x":39.3,"y":5},{"x":39.6,"y":-11.1},{"x":39,"y":-0.4},{"x":39.9,"y":8.6},{"x":39.4,"y":-4.8},{"x":39.7,"y":-15.2},{"x":39.2,"y":3.6},{"x":39.45,"y":12},
{"x":40.1,"y":3.9},{"x":40.5,"y":-0.3},{"x":40.8,"y":-4.5},{"x":40.3,"y":7.7},{"x":40.6,"y":-8.8},{"x":40,"y":1.9},{"x":40.9,"y":11.1},{"x":40.4,"y":-2.1},{"x":40.7,"y":-12.5},{"x":40.2,"y":5.7},{"x":40.45,"y":-6.4},
{"x":41.1,"y":2.3},{"x":41.5,"y":-2},{"x":41.8,"y":-6.3},{"x":41.3,"y":6},{"x":41.6,"y":-10.2},{"x":41,"y":0.2},{"x":41.9,"y":9.5},{"x":41.4,"y":-3.9},{"x":41.7,"y":-14.2},{"x":41.2,"y":4.3},{"x":41.45,"y":14.1},
{"x":42.1,"y":0.7},{"x":42.5,"y":-3.6},{"x":42.8,"y":-7.8},{"x":42.3,"y":4.3},{"x":42.6,"y":-11.8},{"x":42,"y":-1.3},{"x":42.9,"y":7.9},{"x":42.4,"y":-5.5},{"x":42.7,"y":-15.9},{"x":42.2,"y":2.9},{"x":42.45,"y":11.3},
{"x":43.1,"y":3.2},{"x":43.5,"y":-1},{"x":43.8,"y":-5.2},{"x":43.3,"y":7},{"x":43.6,"y":-9.4},{"x":43,"y":1.3},{"x":43.9,"y":10.5},{"x":43.4,"y":-2.8},{"x":43.7,"y":-13.3},{"x":43.2,"y":5.1},{"x":43.45,"y":-7},
{"x":44.1,"y":1.6},{"x":44.5,"y":-2.7},{"x":44.8,"y":-6.9},{"x":44.3,"y":5.3},{"x":44.6,"y":-10.8},{"x":44,"y":-0.5},{"x":44.9,"y":8.9},{"x":44.4,"y":-4.5},{"x":44.7,"y":-14.9},{"x":44.2,"y":3.5},{"x":44.45,"y":13.3},
{"x":45.1,"y":0},{"x":45.5,"y":-4.3},{"x":45.8,"y":-8.5},{"x":45.3,"y":3.6},{"x":45.6,"y":-12.4},{"x":45,"y":-2},{"x":45.9,"y":7.2},{"x":45.4,"y":-6.1},{"x":45.7,"y":-16.5},{"x":45.2,"y":2},{"x":45.45,"y":10.7},
{"x":46.1,"y":2.5},{"x":46.5,"y":-1.7},{"x":46.8,"y":-5.9},{"x":46.3,"y":6.3},{"x":46.6,"y":-10},{"x":46,"y":0.6},{"x":46.9,"y":9.8},{"x":46.4,"y":-3.4},{"x":46.7,"y":-14},{"x":46.2,"y":4.4},{"x":46.45,"y":-7.7},
{"x":47.1,"y":0.9},{"x":47.5,"y":-3.4},{"x":47.8,"y":-7.6},{"x":47.3,"y":4.6},{"x":47.6,"y":-11.5},{"x":47,"y":-1.2},{"x":47.9,"y":8.2},{"x":47.4,"y":-5.2},{"x":47.7,"y":-15.6},{"x":47.2,"y":2.7},{"x":47.45,"y":12.4},
{"x":48.1,"y":-0.7},{"x":48.5,"y":-5},{"x":48.8,"y":-9.2},{"x":48.3,"y":2.9},{"x":48.6,"y":-13.1},{"x":48,"y":-2.7},{"x":48.9,"y":6.5},{"x":48.4,"y":-6.8},{"x":48.7,"y":-17.2},{"x":48.2,"y":1.3},{"x":48.45,"y":10},
{"x":49.1,"y":1.8},{"x":49.5,"y":-2.4},{"x":49.8,"y":-6.6},{"x":49.3,"y":5.6},{"x":49.6,"y":-10.7},{"x":49,"y":-0.1},{"x":49.9,"y":9.1},{"x":49.4,"y":-4.1},{"x":49.7,"y":-14.7},{"x":49.2,"y":3.7},{"x":49.45,"y":-8.4},
{"x":50.1,"y":0.2},{"x":50.5,"y":-4.1},{"x":50.8,"y":-8.3},{"x":50.3,"y":3.9},{"x":50.6,"y":-12.2},{"x":50,"y":-1.9},{"x":50.9,"y":7.5},{"x":50.4,"y":-5.9},{"x":50.7,"y":-16.3},{"x":50.2,"y":2},{"x":50.45,"y":11.7},
{"x":51.1,"y":-1.4},{"x":51.5,"y":-5.7},{"x":51.8,"y":-9.9},{"x":51.3,"y":2.2},{"x":51.6,"y":-13.8},{"x":51,"y":-3.4},{"x":51.9,"y":5.8},{"x":51.4,"y":-7.5},{"x":51.7,"y":-17.9},{"x":51.2,"y":0.6},{"x":51.45,"y":9.4},
{"x":52.1,"y":1.1},{"x":52.5,"y":-3.1},{"x":52.8,"y":-7.3},{"x":52.3,"y":4.9},{"x":52.6,"y":-11.4},{"x":52,"y":-0.9},{"x":52.9,"y":8.4},{"x":52.4,"y":-4.8},{"x":52.7,"y":-15.4},{"x":52.2,"y":3},{"x":52.45,"y":-9.1},
{"x":53.1,"y":-0.5},{"x":53.5,"y":-4.8},{"x":53.8,"y":-9},{"x":53.3,"y":3.2},{"x":53.6,"y":-12.9},{"x":53,"y":-2.6},{"x":53.9,"y":6.8},{"x":53.4,"y":-6.6},{"x":53.7,"y":-17},{"x":53.2,"y":1.4},{"x":53.45,"y":11},
{"x":54.1,"y":-2.1},{"x":54.5,"y":-6.4},{"x":54.8,"y":-10.6},{"x":54.3,"y":1.5},{"x":54.6,"y":-14.5},{"x":54,"y":-4.1},{"x":54.9,"y":5.1},{"x":54.4,"y":-8.2},{"x":54.7,"y":-18.6},{"x":54.2,"y":-0.1},
{"x":55.1,"y":-0.9},{"x":55.5,"y":-5.2},{"x":55.8,"y":-9.4},{"x":55.3,"y":2.7},{"x":55.6,"y":-13.4},{"x":55,"y":-3},{"x":55.9,"y":6.2},{"x":55.4,"y":-7},{"x":55.7,"y":-17.3},{"x":55.2,"y":1},
{"x":56.1,"y":-2.6},{"x":56.5,"y":-6.9},{"x":56.8,"y":-11.1},{"x":56.3,"y":1},{"x":56.6,"y":-15},{"x":56,"y":-4.6},{"x":56.9,"y":4.5},{"x":56.4,"y":-8.7},{"x":56.7,"y":-19.1},
{"x":57.1,"y":-1.8},{"x":57.5,"y":-6.1},{"x":57.8,"y":-10.3},{"x":57.3,"y":1.9},{"x":57.6,"y":-14.2},{"x":57,"y":-3.9},{"x":57.9,"y":5.3},{"x":57.4,"y":-7.9},
{"x":58.1,"y":-3.5},{"x":58.5,"y":-7.8},{"x":58.8,"y":-12},{"x":58.3,"y":0.2},{"x":58.6,"y":-15.9},{"x":58,"y":-5.5},{"x":58.9,"y":3.7},{"x":58.4,"y":-9.6},
{"x":59.1,"y":-2.8},{"x":59.5,"y":-7.1},{"x":59.8,"y":-11.3},{"x":59.3,"y":0.9},{"x":59.6,"y":-15.2},{"x":59,"y":-4.8},{"x":59.9,"y":4.4},
{"x":60.1,"y":-4.6},{"x":60.5,"y":-8.9},{"x":60.8,"y":-13.1},{"x":60.3,"y":-0.9},{"x":60.6,"y":-17},{"x":60,"y":-6.6},{"x":60.9,"y":2.5},
{"x":61.1,"y":-3.9},{"x":61.5,"y":-8.2},{"x":61.8,"y":-12.4},{"x":61.3,"y":-0.2},{"x":61.6,"y":-16.3},{"x":61,"y":-5.9},
{"x":62.1,"y":-5.6},{"x":62.5,"y":-9.9},{"x":62.8,"y":-14.1},{"x":62.3,"y":-1.9},{"x":62.6,"y":-18},{"x":62,"y":-7.6},
{"x":63.1,"y":-4.9},{"x":63.5,"y":-9.2},{"x":63.8,"y":-13.4},{"x":63.3,"y":-1.2},{"x":63.6,"y":-16.6},
{"x":64.1,"y":-6.7},{"x":64.5,"y":-11},{"x":64.8,"y":-15.2},{"x":64.3,"y":-3},
{"x":65.1,"y":-6},{"x":65.5,"y":-10.3},{"x":65.8,"y":-14.5},{"x":65.3,"y":-2.3},
{"x":66.1,"y":-7.8},{"x":66.5,"y":-12.1},{"x":66.8,"y":-16.3},
{"x":67.1,"y":-7.1},{"x":67.5,"y":-11.4},{"x":67.8,"y":-4},
{"x":68.1,"y":-9},{"x":68.5,"y":-13.3},{"x":69.1,"y":-8.3},{"x":69.5,"y":-15.2}
],
"b0":[{"x":20,"y":13.5},{"x":24,"y":10.3},{"x":28,"y":5.9},{"x":32.8,"y":2.3},{"x":35.6,"y":0.7},{"x":40.5,"y":-1.3},{"x":45.2,"y":-3.2},{"x":49.8,"y":-3.9},{"x":55,"y":-5},{"x":57,"y":-5.7},{"x":60,"y":-7},{"x":64,"y":-9.1},{"x":68.8,"y":-11.6},{"x":75,"y":-15},{"x":82.5,"y":-19.4},{"x":90,"y":-22.8},{"x":103.6,"y":-28}],
"m0":[{"x":19.6,"y":-4.1},{"x":103.6,"y":-4.1}],
"b1":[{"x":19.8,"y":5.2},{"x":29.6,"y":1.8},{"x":38.5,"y":-1.1},{"x":47.4,"y":-2.7},{"x":54,"y":-4.1},{"x":62.9,"y":-6.5},{"x":69.6,"y":-10.1},{"x":76.3,"y":-14.7},{"x":80.3,"y":-18.3},{"x":82.2,"y":-19.7}],
"m1":[{"x":19.8,"y":-3.6},{"x":82.4,"y":-3.6}],
"b2":[{"x":12.2,"y":2.7},{"x":28.4,"y":-0.4},{"x":38.7,"y":-1.1},{"x":47.9,"y":-1.7},{"x":53,"y":-3},{"x":62.1,"y":-5.9},{"x":66.7,"y":-8.2},{"x":71.9,"y":-11.8},{"x":74.4,"y":-14.3},{"x":79.5,"y":-19.5},{"x":84.1,"y":-25.4}],
"m2":[{"x":12.1,"y":-3.3},{"x":84.1,"y":-3.3}],
"b3":[{"x":8.5,"y":4.4},{"x":21.1,"y":1.1},{"x":32.9,"y":-0.9},{"x":44.8,"y":-2.3},{"x":52.5,"y":-3},{"x":58.4,"y":-5.6},{"x":67.3,"y":-9.7},{"x":73.2,"y":-13.8},{"x":82.1,"y":-20.5},{"x":91,"y":-30.8},{"x":99.2,"y":-39.3}],
"m3":[{"x":8.5,"y":-2.9},{"x":98.4,"y":-2.9}]
},
"columns":2,
"spacing":{"row":178,"column":122},
"bounds":"flush",
"concat":[
{"width":562,"height":320,"title":{"text":"MDRD, baseline","offset":17},"layer":[
{"data":{"name":"p0"},"mark":{"type":"point","filled":false,"size":400,"strokeWidth":1.6,"opacity":1},
"encoding":{"x":{"field":"x","type":"quantitative","scale":{"domain":[15.3,108],"nice":false,"zero":false},"axis":{"values":[20,40,60,80,100],"title":"Reference measurement (mGFR Du Bois) at baseline"}},
"y":{"field":"y","type":"quantitative","scale":{"domain":[-44,55],"nice":false,"zero":false},"axis":{"values":[-40,-30,-20,-10,0,10,20,30,40,50],"tickCount":12,"labelOverlap":false,"title":"eGFR bias (vs. mGFR)"}},
"color":{"datum":"Data","type":"nominal","scale":{"domain":["Data","Bias profile","Mean bias"],"range":["#29adb0","#173e6b","#f0695a"]},"legend":{"title":"Legend"}},
"shape":{"datum":"Data","type":"nominal","scale":{"domain":["Data","Bias profile","Mean bias"],"range":["M-0.45,0A0.45,0.45,0,1,0,0.45,0A0.45,0.45,0,1,0,-0.45,0Z","M-2.4,0H2.4","M-2.4,0H2.4"]},"legend":{"title":"Legend"}}}},
{"data":{"name":"m0"},"mark":{"type":"line","strokeWidth":1.6},"encoding":{"x":{"field":"x","type":"quantitative"},"y":{"field":"y","type":"quantitative"},"color":{"datum":"Mean bias","type":"nominal"},
"strokeDash":{"datum":"Mean bias","type":"nominal","scale":{"domain":["Data","Bias profile","Mean bias"],"range":[[1,0],[1,0],[8,5]]},"legend":{"title":"Legend"}}}},
{"data":{"name":"b0"},"mark":{"type":"line","strokeWidth":2,"interpolate":"monotone"},"encoding":{"x":{"field":"x","type":"quantitative"},"y":{"field":"y","type":"quantitative"},"color":{"datum":"Bias profile","type":"nominal"},"strokeDash":{"datum":"Bias profile","type":"nominal"}}}
]},
{"width":562,"height":320,"title":{"text":"MDRD, year 1","offset":17},"layer":[
{"data":{"name":"p1"},"mark":{"type":"point","filled":false,"size":400,"strokeWidth":1.6,"opacity":1},
"encoding":{"x":{"field":"x","type":"quantitative","scale":{"domain":[16.7,85.6],"nice":false,"zero":false},"axis":{"values":[20,40,60,80],"title":"Reference measurement (mGFR Du Bois) at year 1"}},
"y":{"field":"y","type":"quantitative","scale":{"domain":[-44,55],"nice":false,"zero":false},"axis":{"values":[-40,-30,-20,-10,0,10,20,30,40,50],"tickCount":12,"labelOverlap":false,"title":"eGFR bias (vs. mGFR)"}},
"color":{"datum":"Data","type":"nominal"},"shape":{"datum":"Data","type":"nominal"}}},
{"data":{"name":"m1"},"mark":{"type":"line","strokeWidth":1.6},"encoding":{"x":{"field":"x","type":"quantitative"},"y":{"field":"y","type":"quantitative"},"color":{"datum":"Mean bias","type":"nominal"},"strokeDash":{"datum":"Mean bias","type":"nominal"}}},
{"data":{"name":"b1"},"mark":{"type":"line","strokeWidth":2,"interpolate":"monotone"},"encoding":{"x":{"field":"x","type":"quantitative"},"y":{"field":"y","type":"quantitative"},"color":{"datum":"Bias profile","type":"nominal"},"strokeDash":{"datum":"Bias profile","type":"nominal"}}}
]},
{"width":562,"height":320,"title":{"text":"MDRD, year 2","offset":12},"layer":[
{"data":{"name":"p2"},"mark":{"type":"point","filled":false,"size":400,"strokeWidth":1.6,"opacity":1},
"encoding":{"x":{"field":"x","type":"quantitative","scale":{"domain":[8.5,87.5],"nice":false,"zero":false},"axis":{"values":[20,40,60,80],"title":"Reference measurement (mGFR Du Bois) at year 2"}},
"y":{"field":"y","type":"quantitative","scale":{"domain":[-44,55],"nice":false,"zero":false},"axis":{"values":[-40,-30,-20,-10,0,10,20,30,40,50],"tickCount":12,"labelOverlap":false,"title":"eGFR bias (vs. mGFR)"}},
"color":{"datum":"Data","type":"nominal"},"shape":{"datum":"Data","type":"nominal"}}},
{"data":{"name":"m2"},"mark":{"type":"line","strokeWidth":1.6},"encoding":{"x":{"field":"x","type":"quantitative"},"y":{"field":"y","type":"quantitative"},"color":{"datum":"Mean bias","type":"nominal"},"strokeDash":{"datum":"Mean bias","type":"nominal"}}},
{"data":{"name":"b2"},"mark":{"type":"line","strokeWidth":2,"interpolate":"monotone"},"encoding":{"x":{"field":"x","type":"quantitative"},"y":{"field":"y","type":"quantitative"},"color":{"datum":"Bias profile","type":"nominal"},"strokeDash":{"datum":"Bias profile","type":"nominal"}}}
]},
{"width":562,"height":320,"title":{"text":"MDRD, year 3","offset":12},"layer":[
{"data":{"name":"p3"},"mark":{"type":"point","filled":false,"size":400,"strokeWidth":1.6,"opacity":1},
"encoding":{"x":{"field":"x","type":"quantitative","scale":{"domain":[3.8,103.7],"nice":false,"zero":false},"axis":{"values":[20,40,60,80,100],"title":"Reference measurement (mGFR Du Bois) at year 3"}},
"y":{"field":"y","type":"quantitative","scale":{"domain":[-44,55],"nice":false,"zero":false},"axis":{"values":[-40,-30,-20,-10,0,10,20,30,40,50],"tickCount":12,"labelOverlap":false,"title":"eGFR bias (vs. mGFR)"}},
"color":{"datum":"Data","type":"nominal"},"shape":{"datum":"Data","type":"nominal"}}},
{"data":{"name":"m3"},"mark":{"type":"line","strokeWidth":1.6},"encoding":{"x":{"field":"x","type":"quantitative"},"y":{"field":"y","type":"quantitative"},"color":{"datum":"Mean bias","type":"nominal"},"strokeDash":{"datum":"Mean bias","type":"nominal"}}},
{"data":{"name":"b3"},"mark":{"type":"line","strokeWidth":2,"interpolate":"monotone"},"encoding":{"x":{"field":"x","type":"quantitative"},"y":{"field":"y","type":"quantitative"},"color":{"datum":"Bias profile","type":"nominal"},"strokeDash":{"datum":"Bias profile","type":"nominal"}}}
]}
]
}
